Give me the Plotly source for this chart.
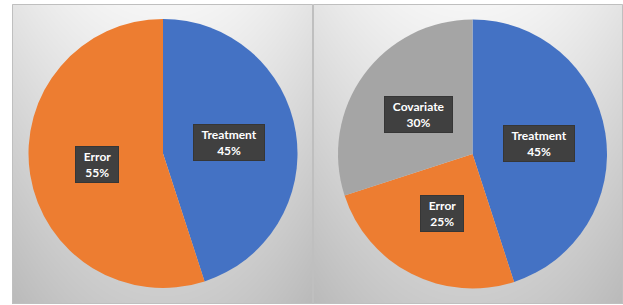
import base64
import math
import struct
import zlib

import numpy as np
import plotly.graph_objects as go

# ---- data ----
labels_a = ["Treatment", "Error"]
values_a = [45, 55]
labels_b = ["Treatment", "Error", "Covariate"]
values_b = [45, 25, 30]
colors_map = {"Treatment": "#4472C4", "Error": "#ED7D31", "Covariate": "#A5A5A5"}

W, H = 623, 305

# pie geometry (pixels)
PIES = [
    dict(cx=163.0, cy=153.5, r=134.5, labels=labels_a, values=values_a),
    dict(cx=472.5, cy=154.0, r=134.5, labels=labels_b, values=values_b),
]
PANELS = [(12, 4, 313, 304), (313, 4, 623, 304)]


def gradient_png(w, h):
    ys, xs = np.mgrid[0:h, 0:w]
    yf = ys / (h - 1)
    xf = xs / (w - 1)
    v = 246 - 42 * yf - 18 * (2 * np.abs(xf - 0.5)) ** 2
    arr = np.clip(v, 0, 255).astype(np.uint8)
    raw = b"".join(b"\x00" + row.tobytes() for row in arr)

    def chunk(tag, data):
        c = struct.pack(">I", len(data)) + tag + data
        return c + struct.pack(">I", zlib.crc32(tag + data) & 0xFFFFFFFF)

    png = b"\x89PNG\r\n\x1a\n"
    png += chunk(b"IHDR", struct.pack(">IIBBBBB", w, h, 8, 0, 0, 0, 0))
    png += chunk(b"IDAT", zlib.compress(raw, 9))
    png += chunk(b"IEND", b"")
    return "data:image/png;base64," + base64.b64encode(png).decode()


fig = go.Figure()
images = []
shapes = []
annotations = []

for (x0, y0, x1, y1) in PANELS:
    images.append(dict(source=gradient_png(int(x1 - x0), int(y1 - y0)), xref="paper", yref="paper",
                       x=x0 / W, y=1 - y0 / H, sizex=(x1 - x0) / W, sizey=(y1 - y0) / H,
                       sizing="stretch", layer="below", xanchor="left", yanchor="top"))
    shapes.append(dict(type="rect", xref="paper", yref="paper",
                       x0=(x0 + 0.5) / W, x1=(x1 - 0.5) / W, y0=1 - (y1 - 0.5) / H, y1=1 - (y0 + 0.5) / H,
                       line=dict(color="#BFBFBF", width=1), fillcolor="rgba(0,0,0,0)"))

for p in PIES:
    cx, cy, r = p["cx"], p["cy"], p["r"]
    fig.add_trace(go.Pie(
        labels=p["labels"], values=p["values"], sort=False, direction="clockwise", rotation=0,
        marker=dict(colors=[colors_map[l] for l in p["labels"]], line=dict(width=0)),
        textinfo="none", hoverinfo="label+percent",
        domain=dict(x=[(cx - r) / W, (cx + r) / W], y=[1 - (cy + r) / H, 1 - (cy - r) / H]),
    ))
    total = sum(p["values"])
    cum = 0
    for lab, val in zip(p["labels"], p["values"]):
        mid = (cum + val / 2) / total
        cum += val
        th = 2 * math.pi * mid
        px = cx + 0.5 * r * math.sin(th)
        py = cy - 0.5 * r * math.cos(th)
        pct = round(100 * val / total)
        nb = "\u00a0\u00a0"
        text = f"<b>{nb}{lab}{nb}<br>{pct}%</b>"
        annotations.append(dict(xref="paper", yref="paper", x=px / W, y=1 - py / H, showarrow=False,
                                xanchor="center", yanchor="middle",
                                text=text, align="center", borderpad=2, borderwidth=1,
                                bgcolor="#404040", bordercolor="#363636",
                                font=dict(family="Lato", size=12, color="#FFFFFF")))

fig.update_layout(
    width=W, height=H, margin=dict(l=0, r=0, t=0, b=0),
    paper_bgcolor="#FFFFFF", plot_bgcolor="#FFFFFF", showlegend=False,
    images=images, shapes=shapes, annotations=annotations,
)
fig.write_html("out.html", config={"displayModeBar": False},
               post_script="document.body.style.margin='0px';")
